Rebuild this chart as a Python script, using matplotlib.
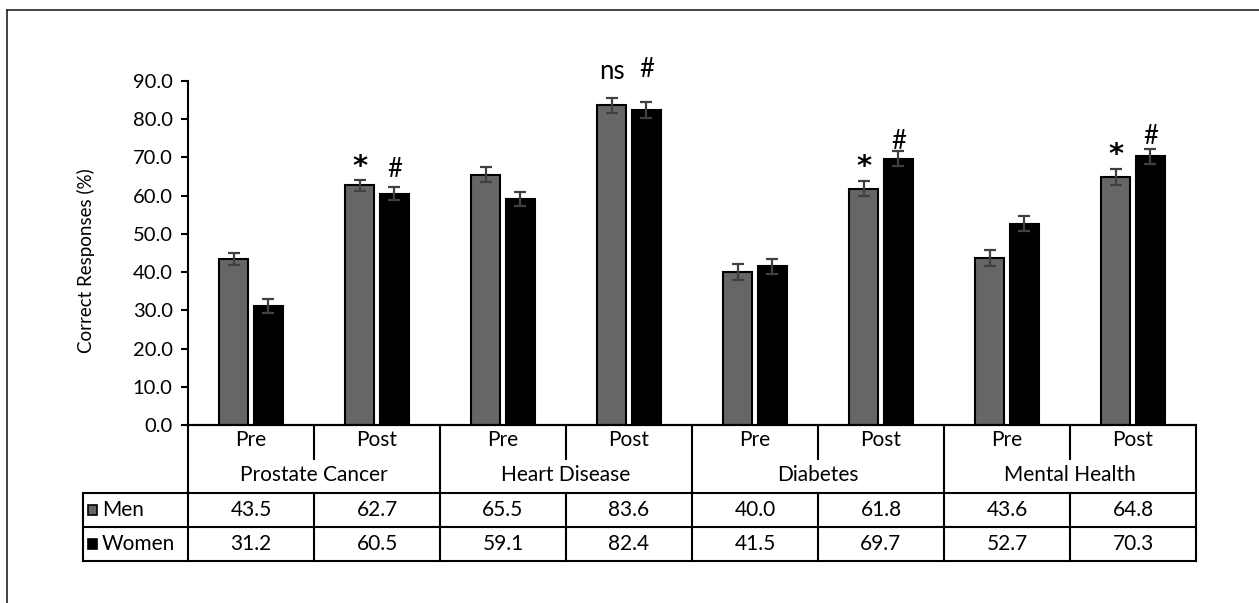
import numpy as np
import matplotlib
matplotlib.use("Agg")
import matplotlib.pyplot as plt
from matplotlib.lines import Line2D
from matplotlib.patches import Rectangle

plt.rcParams['font.family'] = ['Lato', 'DejaVu Sans']

# data
topics = ["Prostate Cancer", "Heart Disease", "Diabetes", "Mental Health"]
phases = ["Pre", "Post"]
men = [43.5, 62.7, 65.5, 83.6, 40.0, 61.8, 43.6, 64.8]
women = [31.2, 60.5, 59.1, 82.4, 41.5, 69.7, 52.7, 70.3]
men_err = [1.6, 1.5, 1.9, 2.0, 2.0, 2.0, 2.1, 2.1]
women_err = [1.8, 1.7, 1.8, 2.0, 1.9, 2.0, 1.9, 2.0]
men_marks = ["", "*", "", "ns", "", "*", "", "*"]
women_marks = ["", "#", "", "#", "", "#", "", "#"]
yticks = [0, 10, 20, 30, 40, 50, 60, 70, 80, 90]

# gap (in points) between error cap and mark centre
men_pad = [0, 9, 0, 19, 0, 10, 0, 10]
women_pad = [0, 13, 0, 24, 0, 7, 0, 9]

men_color = "#666666"
women_color = "#000000"
err_color = "#404040"

W, H = 1259, 603
fig = plt.figure(figsize=(W / 100, H / 100), dpi=100)

# outer frame (only left and top visible)
fig.add_artist(Line2D([7 / W, 7 / W], [0, 1 - 10 / H], color="#222222", lw=1.2))
fig.add_artist(Line2D([7 / W, 1], [1 - 10 / H, 1 - 10 / H], color="#222222", lw=1.2))

ax = fig.add_axes([188 / W, (H - 425) / H, 1008 / W, 344 / H])
n = len(men)
x = np.arange(n) + 0.5
bw = 0.235
off = 0.138

ax.bar(x - off, men, bw, color=men_color, edgecolor="black", linewidth=1.5, zorder=2)
ax.bar(x + off, women, bw, color=women_color, edgecolor="black", linewidth=1.5, zorder=2)
ax.errorbar(x - off, men, yerr=men_err, fmt="none", ecolor=err_color, elinewidth=1.6,
            capsize=4, capthick=1.6, zorder=3)
ax.errorbar(x + off, women, yerr=women_err, fmt="none", ecolor=err_color, elinewidth=1.6,
            capsize=4, capthick=1.6, zorder=3)


def put_mark(txt, xx, yy, pad):
    if txt == "*":
        ax.annotate(txt, (xx, yy), xytext=(0, pad), textcoords="offset points",
                    ha="center", va="center", fontsize=21, fontweight="bold",
                    family="DejaVu Sans")
    else:
        ax.annotate(txt, (xx, yy), xytext=(0, pad), textcoords="offset points",
                    ha="center", va="center", fontsize=18.5)


for i in range(n):
    if men_marks[i]:
        put_mark(men_marks[i], x[i] - off, men[i] + men_err[i], men_pad[i])
    if women_marks[i]:
        put_mark(women_marks[i], x[i] + off, women[i] + women_err[i], women_pad[i])

ax.set_xlim(0, n)
ax.set_ylim(0, 90)
ax.set_yticks(yticks)
ax.set_yticklabels([f"{t:.1f}" for t in yticks], fontsize=14.5)
ax.set_xticks([])
ax.tick_params(axis="y", direction="out", length=5, width=1.5, pad=6)
for s in ["top", "right"]:
    ax.spines[s].set_visible(False)
ax.spines["left"].set_linewidth(1.5)
ax.spines["bottom"].set_linewidth(1.5)
ax.set_ylabel("Correct Responses (%)", fontsize=13.5)
ax.yaxis.set_label_coords(-0.092, 0.477)

# data table below the axis
tab = fig.add_axes([83 / W, (H - 561) / H, 1113 / W, 136 / H])
left = -105 / 126
tab.set_xlim(left, n)
tab.set_ylim(0, 4)
tab.axis("off")
lk = dict(color="black", lw=1.5, solid_capstyle="projecting", clip_on=False)

# horizontal lines
tab.plot([left, n], [0, 0], **lk)
tab.plot([left, n], [1, 1], **lk)
tab.plot([left, n], [2, 2], **lk)
tab.plot([0, n], [4, 4], **lk)
# vertical lines
tab.plot([left, left], [0, 2], **lk)
tab.plot([n, n], [0, 4], **lk)
for i in range(0, n):
    if i % 2 == 0:
        tab.plot([i, i], [0, 4], **lk)
    else:
        tab.plot([i, i], [0, 2], **lk)
        tab.plot([i, i], [3.0, 4], **lk)

fs = 15
for i in range(n):
    tab.text(i + 0.5, 3.55, phases[i % 2], ha="center", va="center", fontsize=fs)
    tab.text(i + 0.5, 1.5, f"{men[i]:.1f}", ha="center", va="center", fontsize=fs)
    tab.text(i + 0.5, 0.5, f"{women[i]:.1f}", ha="center", va="center", fontsize=fs)
for k, t in enumerate(topics):
    tab.text(2 * k + 1, 2.53, t, ha="center", va="center", fontsize=fs)

# legend keys in the table
tab.add_patch(Rectangle((left + 0.04, 1.35), 0.075, 0.3, facecolor=men_color,
                        edgecolor="black", lw=1.2, clip_on=False))
tab.add_patch(Rectangle((left + 0.04, 0.35), 0.075, 0.3, facecolor=women_color,
                        edgecolor="black", lw=1.2, clip_on=False))
tab.text(left + 0.15, 1.5, "Men", ha="left", va="center", fontsize=fs)
tab.text(left + 0.15, 0.5, "Women", ha="left", va="center", fontsize=fs)

fig.savefig("out.png", dpi=100)
